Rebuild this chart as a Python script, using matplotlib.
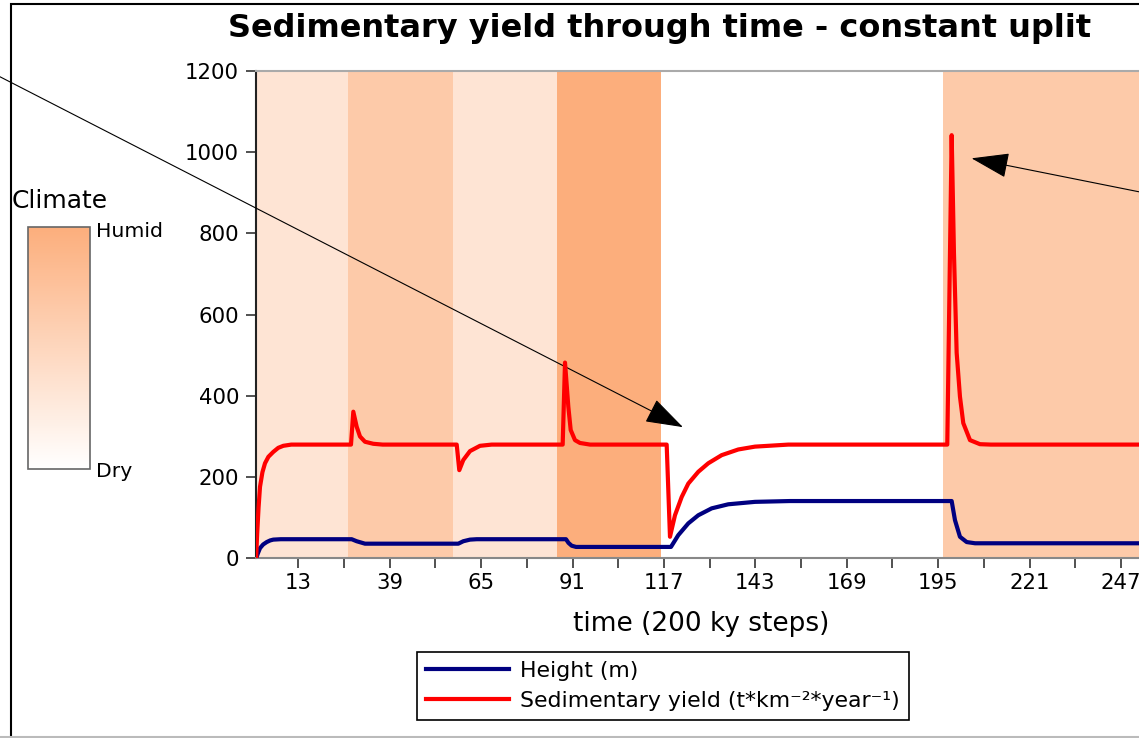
import matplotlib
matplotlib.use("Agg")
import matplotlib.pyplot as plt
from matplotlib.colors import LinearSegmentedColormap
from matplotlib.patches import Rectangle
from matplotlib.lines import Line2D
import matplotlib as mpl

# climate periods (time steps) and wetness 0=dry 1=humid
band_start = [1, 27.05, 57.1, 86.7, 116.1, 196.3]
band_end = [27.05, 57.1, 86.7, 116.1, 196.3, 254]
climate = [0.33, 0.66, 0.33, 1.0, 0.0, 0.66]

# height (m)
t_height = [1, 1.5, 2.11, 3, 4.02, 5, 5.89, 8, 28.19, 29.61, 31.97, 58.51, 59.93,
            61.84, 63.74, 89.14, 89.85, 90.76, 92, 119.0, 121.08, 123.93, 126.77,
            130.58, 135.3, 142.9, 152.85, 198.84, 199.78, 201.2, 203.11, 205.5, 254]
height = [0, 12, 25, 34, 40, 44, 46, 47, 47, 42, 36, 36, 42,
          46, 47, 47, 38, 31, 28, 28, 57, 86, 106,
          123, 133, 139, 141, 141, 94, 53, 40, 37, 37]

# sedimentary yield (t/km2/yr)
t_yield = [1, 1.3, 1.7, 2.11, 2.8, 3.53, 4.5, 5.89, 7.3, 8.74, 11,
           27.99, 28.65, 29.61, 30.55, 31.97, 34.33, 37,
           58.06, 58.79, 59.93, 61.84, 64.68, 68,
           88.2, 88.86, 89.8, 90.48, 91.7, 93.12, 96,
           117.78, 118.72, 120.14, 122.05, 123.93, 126.77, 129.61, 133.42, 138.15,
           142.9, 152.37,
           197.59, 198.84, 199.49, 200.26, 201.2, 202.14, 204.05, 206.89, 210, 254]
sed_yield = [0, 60, 125, 176, 212, 234, 250, 262, 272, 277, 280,
             280, 361, 324, 300, 287, 282, 280,
             280, 217, 242, 264, 277, 280,
             280, 482, 374, 316, 291, 284, 280,
             280, 53, 106, 151, 184, 213, 234, 254, 268,
             275, 280,
             280, 1042, 752, 506, 398, 333, 291, 281, 280, 280]

xticks_major = [13, 39, 65, 91, 117, 143, 169, 195, 221, 247]
xticks_minor = [26, 52, 78, 104, 130, 156, 182, 208, 234]
yticks = [0, 200, 400, 600, 800, 1000, 1200]

W, H = 1139, 738
fig = plt.figure(figsize=(W / 100, H / 100), dpi=100)
fig.patch.set_facecolor('white')

cmap = LinearSegmentedColormap.from_list('climate', ['#ffffff', '#fcae7c'])

ax = fig.add_axes([256.1 / W, (H - 558.3) / H, 889.5 / W, 487.3 / H])
for s, e, c in zip(band_start, band_end, climate):
    ax.axvspan(s, e, color=cmap(c), lw=0, zorder=0)

ax.plot(t_height, height, color='#000080', lw=3, label='Height (m)', zorder=3)
ax.plot(t_yield, sed_yield, color='#ff0000', lw=3,
        label='Sedimentary yield (t*km⁻²*year⁻¹)', zorder=4)

ax.set_xlim(1, 254)
ax.set_ylim(0, 1200)
ax.set_xticks(xticks_major)
ax.set_xticks(xticks_minor, minor=True)
ax.set_yticks(yticks)
ax.tick_params(axis='both', which='both', length=7.3, width=1.2, color='#333333',
               labelsize=15.3)
ax.tick_params(axis='x', pad=3.5)
ax.tick_params(axis='y', pad=5)
ax.spines['right'].set_visible(False)
ax.spines['top'].set_color('#aaaaaa')
ax.spines['bottom'].set_color('#888888')
ax.spines['left'].set_color('#222222')
for sp in ax.spines.values():
    sp.set_linewidth(1.5)
ax.set_xlabel('time (200 ky steps)', fontsize=19, labelpad=13)

fig.text(660 / W, (H - 28) / H, 'Sedimentary yield through time - constant uplit',
         ha='center', va='center', fontsize=23, fontweight='bold')

leg = fig.legend(loc='center', bbox_to_anchor=(663 / W, (H - 686) / H),
                 fontsize=15.8, frameon=True, fancybox=False, edgecolor='black',
                 framealpha=1, handlelength=3.8, handletextpad=0.5,
                 labelspacing=0.45, borderpad=0.42)
leg.get_frame().set_linewidth(1.2)

# climate scale
cax = fig.add_axes([28 / W, (H - 469) / H, 62 / W, 242 / H])
cb = fig.colorbar(mpl.cm.ScalarMappable(cmap=cmap), cax=cax)
cb.set_ticks([])
cb.outline.set_edgecolor('#666666')
cb.outline.set_linewidth(1.2)
fig.text(12 / W, (H - 208) / H, 'Climate', fontsize=18, va='baseline')
fig.text(96 / W, (H - 237) / H, 'Humid', fontsize=14.7, va='baseline')
fig.text(96 / W, (H - 477) / H, 'Dry', fontsize=14.7, va='baseline')

# arrows
arrow = dict(arrowstyle='-|>,head_length=1.2,head_width=0.4', mutation_scale=20,
             color='black', lw=0.8, shrinkA=0, shrinkB=0)
ax.annotate('', xy=(122.4, 323), xycoords='data', xytext=(-60, 692),
            textcoords='figure pixels', arrowprops=arrow, annotation_clip=False)
ax.annotate('', xy=(204.5, 985), xycoords='data', xytext=(1200, 534),
            textcoords='figure pixels', arrowprops=arrow, annotation_clip=False)

# outer frame
fig.add_artist(Rectangle((11 / W, -0.05), 1.2, (H - 4) / H + 0.05,
                         transform=fig.transFigure, fill=False, ec='black', lw=1.5))
fig.add_artist(Line2D([0, 1], [1.2 / H, 1.2 / H], transform=fig.transFigure,
                      color='#bbbbbb', lw=1.5))

fig.savefig('out.png', dpi=100)
